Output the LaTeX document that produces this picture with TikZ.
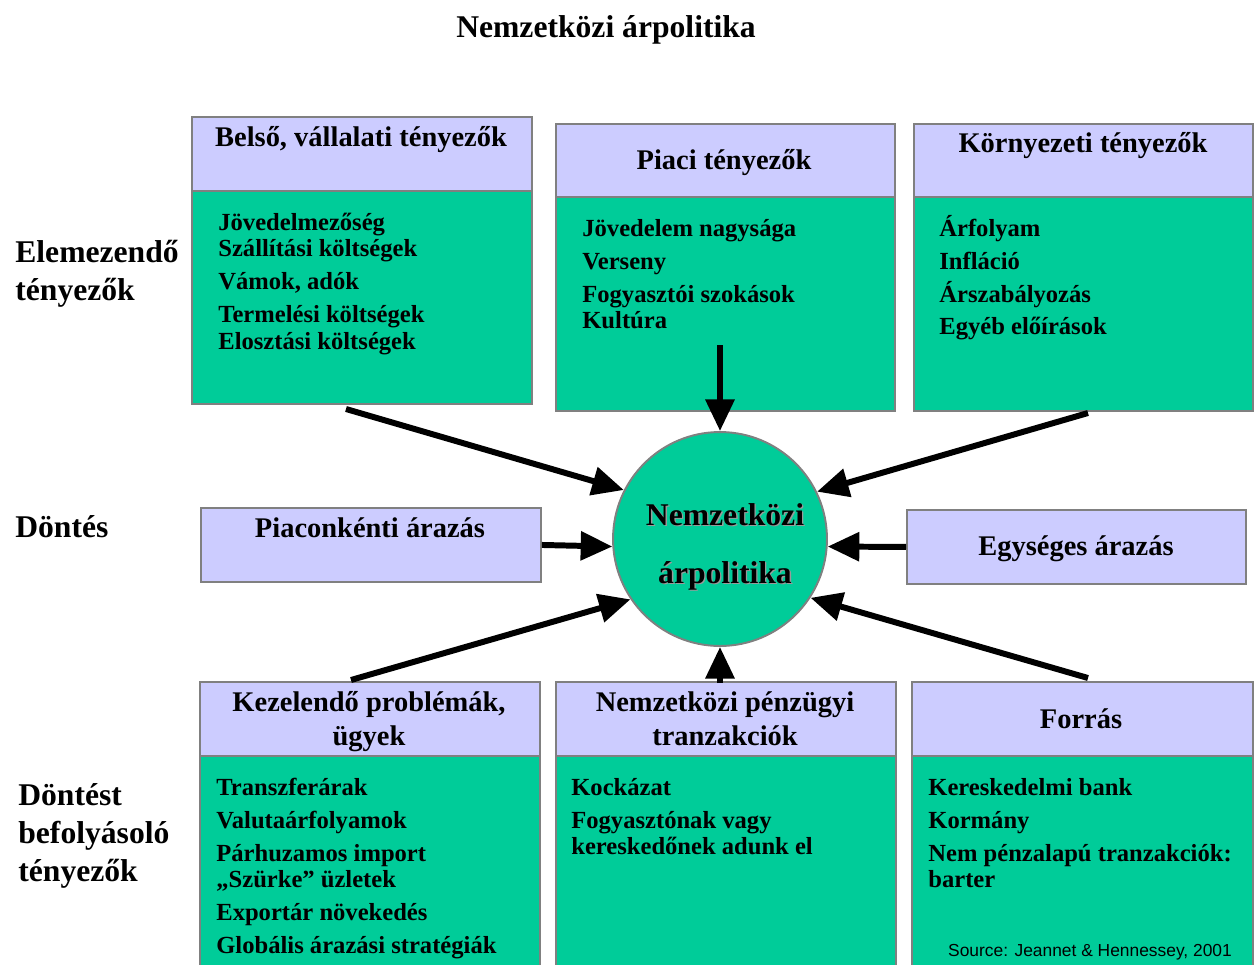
\documentclass[tikz,border=0pt]{standalone}
\usepackage{fontspec}
\setmainfont{Liberation Serif}
\newfontfamily\srcfont{Liberation Sans}
\usetikzlibrary{arrows.meta}

\definecolor{hdrblue}{HTML}{CCCCFF}
\definecolor{bodygreen}{HTML}{00CC99}
\definecolor{rimgray}{HTML}{808080}
\definecolor{shadegray}{HTML}{9A9A9A}

\tikzset{
  hdr/.style={draw=rimgray, line width=1.1pt, fill=hdrblue, anchor=north west,
    inner sep=0, minimum width=6.8cm, minimum height=1.48cm},
  bdy/.style={draw=rimgray, line width=1.1pt, fill=bodygreen, anchor=north west,
    inner sep=0, minimum width=6.8cm},
  ttl/.style={font=\fontsize{16.2}{19}\selectfont\bfseries, inner sep=0,
    text height=11pt, text depth=0pt},
  itm/.style={font=\fontsize{14}{15}\selectfont\bfseries, anchor=west, inner sep=0,
    text height=9.5pt, text depth=0pt},
  lbl/.style={font=\fontsize{18}{20}\selectfont\bfseries, anchor=west, inner sep=0,
    text height=12pt, text depth=0pt},
  big/.style={font=\fontsize{18}{20}\selectfont\bfseries, inner sep=0,
    text height=12pt, text depth=0pt},
  arr/.style={line width=3.4pt, -{Triangle[length=18pt,width=16pt]}},
}

\begin{document}
\begin{tikzpicture}[x=0.02cm, y=-0.02cm]
\useasboundingbox (0,0) rectangle (1254,964);
\clip (0,0) rectangle (1254,964);

% title
\node[big] (title) at (606,27) {Nemzetközi árpolitika};

% row labels
\node[lbl] (lab1) at (15,252) {Elemezendő};
\node[lbl] (lab2) at (15,290) {tényezők};
\node[lbl] (lab3) at (15,527) {Döntés};
\node[lbl] (lab4) at (18,795) {Döntést};
\node[lbl] (lab5) at (18,833) {befolyásoló};
\node[lbl] (lab6) at (18,871) {tényezők};

% upper boxes
\node[hdr] (belh) at (191,116) {};
\node[bdy, minimum height=4.26cm] (belb) at (191,190) {};
\node[hdr, minimum width=6.78cm, minimum height=1.46cm] (piah) at (555,123) {};
\node[bdy, minimum width=6.78cm, minimum height=4.28cm] (piab) at (555,196) {};
\node[hdr, minimum width=6.78cm, minimum height=1.46cm] (korh) at (913,123) {};
\node[bdy, minimum width=6.78cm, minimum height=4.28cm] (korb) at (913,196) {};

\node[ttl] (belt) at (361,137) {Belső, vállalati tényezők};
\node[ttl] (piat) at (724,160) {Piaci tényezők};
\node[ttl] (kort) at (1083,143) {Környezeti tényezők};

\node[itm] (bel1) at (218,222) {Jövedelmezőség};
\node[itm] (bel2) at (218,248) {Szállítási költségek};
\node[itm] (bel3) at (218,281) {Vámok, adók};
\node[itm] (bel4) at (218,314) {Termelési költségek};
\node[itm] (bel5) at (218,341) {Elosztási költségek};

\node[itm] (pia1) at (582,228) {Jövedelem nagysága};
\node[itm] (pia2) at (582,261) {Verseny};
\node[itm] (pia3) at (582,294) {Fogyasztói szokások};
\node[itm] (pia4) at (582,320) {Kultúra};

\node[itm] (kor1) at (939,228) {Árfolyam};
\node[itm] (kor2) at (939,261) {Infláció};
\node[itm] (kor3) at (939,294) {Árszabályozás};
\node[itm] (kor4) at (939,326) {Egyéb előírások};

% decision row
\node[hdr] (piac) at (200,507) {};
\node[hdr, minimum width=6.78cm] (egys) at (906,509) {};
\node[ttl] (piact) at (370,528) {Piaconkénti árazás};
\node[ttl] (egyst) at (1076,546) {Egységes árazás};

% centre
\node[circle, draw=rimgray, line width=1.1pt, fill=bodygreen, minimum size=4.28cm,
  inner sep=0] (arp) at (720,539) {};
\node[big, text=shadegray] (arps1) at (726.3,516.3) {Nemzetközi};
\node[big, text=shadegray] (arps2) at (726.3,574.3) {árpolitika};
\node[big] (arp1) at (725,515) {Nemzetközi};
\node[big] (arp2) at (725,573) {árpolitika};

% lower boxes
\node[hdr] (kezh) at (199,681) {};
\node[bdy, minimum height=4.4cm] (kezb) at (199,755) {};
\node[hdr] (penh) at (555,681) {};
\node[bdy, minimum height=4.4cm] (penb) at (555,755) {};
\node[hdr, minimum width=6.82cm] (forh) at (911,681) {};
\node[bdy, minimum width=6.82cm, minimum height=4.4cm] (forb) at (911,755) {};

\node[ttl] (kezt1) at (369,702) {Kezelendő problémák,};
\node[ttl] (kezt2) at (369,736) {ügyek};
\node[ttl] (pent1) at (725,702) {Nemzetközi pénzügyi};
\node[ttl] (pent2) at (725,736) {tranzakciók};
\node[ttl] (fort) at (1081,719) {Forrás};

\node[itm] (kez1) at (216,787) {Transzferárak};
\node[itm] (kez2) at (216,820) {Valutaárfolyamok};
\node[itm] (kez3) at (216,853) {Párhuzamos import};
\node[itm] (kez4) at (216,879) {„Szürke” üzletek};
\node[itm] (kez5) at (216,912) {Exportár növekedés};
\node[itm] (kez6) at (216,945) {Globális árazási stratégiák};

\node[itm] (pen1) at (571,787) {Kockázat};
\node[itm] (pen2) at (571,820) {Fogyasztónak vagy};
\node[itm] (pen3) at (571,846) {kereskedőnek adunk el};

\node[itm] (for1) at (928,787) {Kereskedelmi bank};
\node[itm] (for2) at (928,820) {Kormány};
\node[itm] (for3) at (928,853) {Nem pénzalapú tranzakciók:};
\node[itm] (for4) at (928,879) {barter};

\node[font=\srcfont\fontsize{9.9}{11}\selectfont, inner sep=0] (src) at (1090,952)
  {Source: Jeannet \& Hennessey, 2001};

% arrows
\coordinate (s1) at (346,409);
\coordinate (s2) at (720,345);
\coordinate (s3) at (1088,413);
\coordinate (s6) at (351,680);
\coordinate (s7) at (720,683);
\coordinate (s8) at (1088,678);
\draw[arr] (s1) -- (arp.153);
\draw[arr] (s2) -- (arp.north);
\draw[arr] (s3) -- (arp.26);
\draw[arr] (piac.east) -- (arp.184);
\draw[arr] (egys.west) -- (arp.356);
\draw[arr] (s6) -- (arp.214);
\draw[arr] (s7) -- (arp.south);
\draw[arr] (s8) -- (arp.327);
\end{tikzpicture}
\end{document}
